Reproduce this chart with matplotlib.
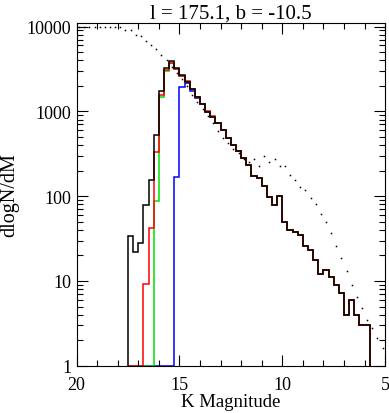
import matplotlib
matplotlib.use('Agg')
import matplotlib.pyplot as plt
import numpy as np
from matplotlib.ticker import FixedLocator, LogLocator, NullFormatter, FuncFormatter

# histogram bin edges (K mag), 0.25 mag bins from 17.5 down to 5.75
edges = np.arange(17.5, 5.74, -0.25)

# black: total counts per bin
black = [34, 22, 28, 78, 157, 520, 1750, 3250, 3950, 3250, 2650, 2230, 1820, 1480,
         1230, 985, 855, 735, 600, 490, 405, 345, 282, 230, 173, 163, 132, 97, 79,
         100, 50, 40, 38, 35, 26, 23, 17.7, 12, 13.4, 11, 9, 7.2, 4, 6, 4, 3, 3]
# red / green / blue subsets (0 = empty bin)
red = [0, 0, 0, 9.2, 42, 330, 1540, 3100, 3750, 3150, 2600, 2290, 1820, 1480,
       1230, 1010, 880, 735, 600, 490, 405, 345, 282, 230, 173, 163, 132, 97, 79,
       100, 50, 40, 38, 35, 26, 23, 17.7, 12, 13.4, 11, 9, 7.2, 4, 6, 4, 3, 3]
green = [0, 0, 0, 0, 0, 88, 1490, 2950, 3680, 3150, 2600, 2230, 1820, 1480,
         1230, 985, 855, 735, 600, 490, 405, 345, 282, 230, 173, 163, 132, 97, 79,
         100, 50, 40, 38, 35, 26, 23, 17.7, 12, 13.4, 11, 9, 7.2, 4, 6, 4, 3, 3]
blue = [0, 0, 0, 0, 0, 0, 0, 0, 0, 170, 1950, 2180, 1760, 1420,
        1230, 985, 855, 735, 600, 490, 405, 345, 282, 230, 173, 163, 132, 97, 79,
        100, 50, 40, 38, 35, 26, 23, 17.7, 12, 13.4, 11, 9, 7.2, 4, 6, 4, 3, 3]

# model prediction (dotted), at bin centres from 19.875 to 5.125
model_mag = np.arange(19.875, 5.0, -0.25)
model = [9900, 9900, 9900, 9900, 9900, 9900, 9900, 9900, 9900, 9220, 8980, 8050,
         7770, 6840, 6090, 5470, 4650, 4080, 3320, 2850, 2380, 1970, 1570, 1290,
         1070, 880, 736, 593, 490, 427, 357, 320, 277, 255, 271, 229, 300, 250,
         277, 229, 224, 180, 157, 128, 117, 94, 80, 61, 50, 37, 26, 18.5, 13.1,
         8.9, 6.4, 4.8, 3.5, 2.8, 2.1, 1.6]

plt.rcParams['font.family'] = 'Liberation Serif'
fig = plt.figure(figsize=(3.89, 4.14), dpi=100)
ax = fig.add_axes([0.197, 0.114, 0.793, 0.828])

ymin = 1.0
for vals, col in [(blue, 'blue'), (green, '#00e000'), (red, 'red'), (black, 'black')]:
    v = np.clip(np.array(vals, dtype=float), ymin, None)
    ax.stairs(v, edges, baseline=ymin, color=col, linewidth=1.1)

ax.plot(model_mag, model, linestyle='none', marker='s', markersize=1.1,
        markeredgewidth=0, color='black')

ax.set_yscale('log')
ax.set_xlim(20, 5)
ax.set_ylim(1, 1.1e4)

ax.xaxis.set_major_locator(FixedLocator([20, 15, 10, 5]))
ax.xaxis.set_minor_locator(FixedLocator(np.arange(6, 20)))
ax.yaxis.set_major_locator(FixedLocator([1, 10, 100, 1000, 10000]))
ax.yaxis.set_major_formatter(FuncFormatter(lambda y, p: '%d' % y))
ax.yaxis.set_minor_locator(LogLocator(base=10, subs=np.arange(2, 10)))
ax.yaxis.set_minor_formatter(NullFormatter())

ax.tick_params(which='both', direction='in', top=True, right=True, labelsize=13, width=0.8)
ax.tick_params(which='major', length=8)
ax.tick_params(axis='y', which='major', pad=4)
ax.tick_params(axis='x', which='major', pad=7)
ax.tick_params(which='minor', length=4.5)
for s in ax.spines.values():
    s.set_linewidth(0.8)

ax.set_xlabel('K Magnitude', fontsize=13.5, labelpad=0)
ax.set_ylabel('dlogN/dM', fontsize=14.5, labelpad=5)
ax.set_title('l = 175.1, b = -10.5', fontsize=15, pad=4)

fig.savefig('out.png', dpi=100)
